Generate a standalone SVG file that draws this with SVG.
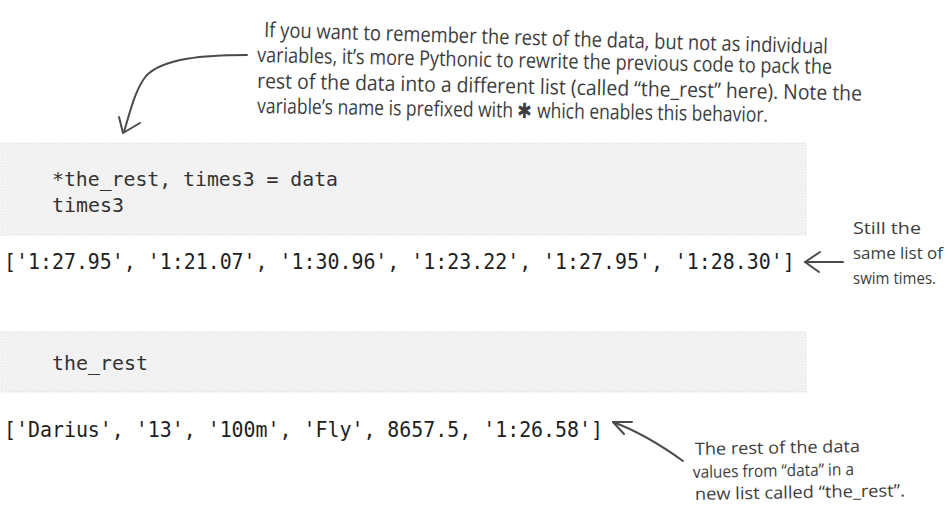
<svg xmlns="http://www.w3.org/2000/svg" width="948" height="506" viewBox="0 0 948 506">
<defs>
<style>
.box{fill:#f2f2f2;stroke:#dcdcdc;stroke-width:1;stroke-dasharray:1.5 1.5}
.code{font-family:"DejaVu Sans Mono","Liberation Mono",monospace;font-size:20px;fill:#333}
.out{font-family:"DejaVu Sans Mono","Liberation Mono",monospace;font-size:22px;fill:#1e1e1e}
.note{font-family:"Open Sans","Noto Sans",sans-serif;font-size:21px;fill:#3d3d3d}
.note2{font-family:"Open Sans","Noto Sans",sans-serif;font-size:17px;fill:#3d3d3d}
.note3{font-family:"Open Sans","Noto Sans",sans-serif;font-size:16px;fill:#3d3d3d}
.conn{fill:none;stroke:#4a4a4a;stroke-width:2;stroke-linecap:round;stroke-linejoin:round}
</style>
</defs>
<rect width="948" height="506" fill="#ffffff"/>

<g id="code-cell-1">
<rect class="box" x="1" y="143" width="805" height="92"/>
<text class="code" x="52" y="186" textLength="286" lengthAdjust="spacingAndGlyphs">*the_rest, times3 = data</text>
<text class="code" x="52" y="212" textLength="72" lengthAdjust="spacingAndGlyphs">times3</text>
</g>

<g id="output-1">
<text class="out" x="0" y="0" transform="translate(4 269) scale(0.905 1)">['1:27.95', '1:21.07', '1:30.96', '1:23.22', '1:27.95', '1:28.30']</text>
</g>

<g id="code-cell-2">
<rect class="box" x="1" y="332" width="805" height="60"/>
<text class="code" x="52" y="370" textLength="96" lengthAdjust="spacingAndGlyphs">the_rest</text>
</g>

<g id="output-2">
<text class="out" x="0" y="0" transform="translate(4 437) scale(0.905 1)">['Darius', '13', '100m', 'Fly', 8657.5, '1:26.58']</text>
</g>

<g id="note-top">
<text class="note" x="264" y="37" textLength="564" lengthAdjust="spacingAndGlyphs" transform="rotate(1.7 264 37)">If you want to remember the rest of the data, but not as individual</text>
<text class="note" x="257" y="62" textLength="575" lengthAdjust="spacingAndGlyphs" transform="rotate(1.2 257 62)">variables, it’s more Pythonic to rewrite the previous code to pack the</text>
<text class="note" x="257" y="88" textLength="605" lengthAdjust="spacingAndGlyphs" transform="rotate(1.2 257 88)">rest of the data into a different list (called “the_rest” here). Note the</text>
<text class="note" x="257" y="113" textLength="511" lengthAdjust="spacingAndGlyphs" transform="rotate(1 257 113)">variable’s name is prefixed with ✱ which enables this behavior.</text>
</g>

<g id="note-right">
<text class="note3" x="853" y="234" textLength="68" lengthAdjust="spacingAndGlyphs">Still the</text>
<text class="note3" x="853" y="259" textLength="90" lengthAdjust="spacingAndGlyphs">same list of</text>
<text class="note3" x="853" y="284" textLength="83" lengthAdjust="spacingAndGlyphs">swim times.</text>
</g>

<g id="note-bottom">
<text class="note2" x="695" y="455" textLength="165" lengthAdjust="spacingAndGlyphs" transform="rotate(-1 695 455)">The rest of the data</text>
<text class="note2" x="693" y="478" textLength="161" lengthAdjust="spacingAndGlyphs" transform="rotate(-1 693 478)">values from “data” in a</text>
<text class="note2" x="695" y="500" textLength="210" lengthAdjust="spacingAndGlyphs" transform="rotate(-1 695 500)">new list called “the_rest”.</text>
</g>

<g id="connectors">
<path class="conn" d="M247,55 C205,55 163,58 146,76 C135,90 130,112 124,132"/>
<path class="conn" d="M119,117 L123,133 L140,123"/>
<path class="conn" d="M843,262 L805,262"/>
<path class="conn" d="M820,252 L805,262 L819,272"/>
<path class="conn" d="M683,461 C665,448 640,432 613,422"/>
<path class="conn" d="M632,422 L613,422 L624,434"/>
</g>
</svg>
